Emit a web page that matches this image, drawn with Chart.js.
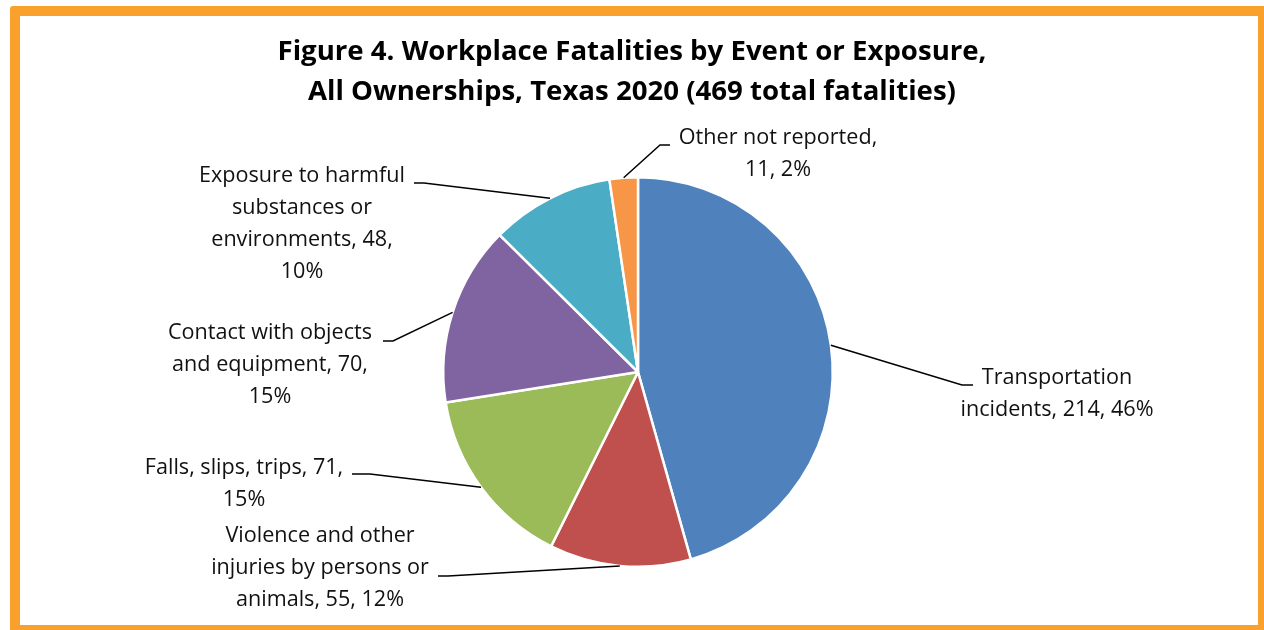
<!DOCTYPE html>
<html>
<head>
<meta charset="utf-8">
<script src="https://cdn.jsdelivr.net/npm/chart.js@4.4.1/dist/chart.umd.min.js"></script>
<style>
  html, body { margin: 0; padding: 0; background: #fff; overflow: hidden; }
  #wrap { position: relative; width: 1264px; height: 630px; }
  #frame {
    position: absolute; left: 10px; top: 6px; right: -4px; bottom: -5px;
    border: 10px solid #F9A12C; border-radius: 3px; pointer-events: none;
  }
</style>
</head>
<body>
<div id="wrap">
  <canvas id="pieChart" width="1264" height="630"></canvas>
  <div id="frame"></div>
</div>
<script>
// data
const categories = [
  "Transportation incidents",
  "Violence and other injuries by persons or animals",
  "Falls, slips, trips",
  "Contact with objects and equipment",
  "Exposure to harmful substances or environments",
  "Other not reported"
];
const fatalities = [214, 55, 71, 70, 48, 11];
const percents = [46, 12, 15, 15, 10, 2];
const sliceColors = ["#4F81BD", "#C0504D", "#9BBB59", "#8064A2", "#4BACC6", "#F79646"];
const titleLines = [
  "Figure 4. Workplace Fatalities by Event or Exposure,",
  "All Ownerships, Texas 2020 (469 total fatalities)"
];

// label layout: text centre / first line y, wrap width, elbow + end of leader line
const labelLayout = [
  { x: 1057, y: 378, wrap: 218, elbow: [962, 385], end: [973, 385] },
  { x: 320, y: 536, wrap: 235, elbow: [448, 576], end: [438, 576] },
  { x: 244, y: 468, wrap: 218, elbow: [370, 474], end: [352, 474] },
  { x: 270, y: 333, wrap: 222, elbow: [393, 341], end: [383, 341] },
  { x: 302, y: 176, wrap: 218, elbow: [424, 183], end: [414, 183] },
  { x: 778, y: 138, wrap: 218, elbow: [660, 145], end: [670, 145] }
];

const labelFont = '21.6px "Open Sans", "Noto Sans", sans-serif';
const titleFont = 'bold 27.6px "Open Sans", "Noto Sans", sans-serif';

function wrapText(ctx, text, maxWidth) {
  const words = text.split(" ");
  const lines = [];
  let line = "";
  words.forEach(w => {
    const test = line ? line + " " + w : w;
    if (ctx.measureText(test).width > maxWidth && line) {
      lines.push(line);
      line = w;
    } else {
      line = test;
    }
  });
  if (line) lines.push(line);
  return lines;
}

const labelPlugin = {
  id: "excelLabels",
  afterDraw(chart) {
    const ctx = chart.ctx;
    const meta = chart.getDatasetMeta(0);
    ctx.save();

    // title
    ctx.fillStyle = "#000";
    ctx.font = titleFont;
    ctx.textAlign = "center";
    ctx.textBaseline = "middle";
    titleLines.forEach((t, i) => ctx.fillText(t, 632, 52 + i * 40));

    ctx.font = labelFont;
    meta.data.forEach((arc, i) => {
      const p = arc.getProps(["x", "y", "startAngle", "endAngle", "outerRadius"], true);
      const mid = (p.startAngle + p.endAngle) / 2;
      const sx = p.x + Math.cos(mid) * p.outerRadius;
      const sy = p.y + Math.sin(mid) * p.outerRadius;
      const lay = labelLayout[i];

      // leader line
      ctx.strokeStyle = "#000";
      ctx.lineWidth = 1.5;
      ctx.beginPath();
      ctx.moveTo(sx, sy);
      ctx.lineTo(lay.elbow[0], lay.elbow[1]);
      ctx.lineTo(lay.end[0], lay.end[1]);
      ctx.stroke();

      // label text
      const text = categories[i] + ", " + fatalities[i] + ", " + percents[i] + "%";
      const lines = wrapText(ctx, text, lay.wrap);
      ctx.fillStyle = "#111";
      lines.forEach((l, k) => ctx.fillText(l, lay.x, lay.y + k * 32));
    });
    ctx.restore();
  }
};

const pieConfig = {
  type: "pie",
  data: {
    labels: categories,
    datasets: [
      {
        data: fatalities,
        backgroundColor: sliceColors,
        borderColor: "#fff",
        borderWidth: 2.5,
      },
    ],
  },
  options: {
    responsive: false,
    maintainAspectRatio: false,
    animation: false,
    layout: {
      padding: { left: 442, right: 430, top: 175, bottom: 61 }
    },
    plugins: {
      legend: { display: false },
      tooltip: { enabled: false },
      title: { display: false },
    },
  },
  plugins: [labelPlugin],
};

const pieCtx = document.getElementById("pieChart").getContext("2d");
new Chart(pieCtx, pieConfig);
</script>
</body>
</html>
